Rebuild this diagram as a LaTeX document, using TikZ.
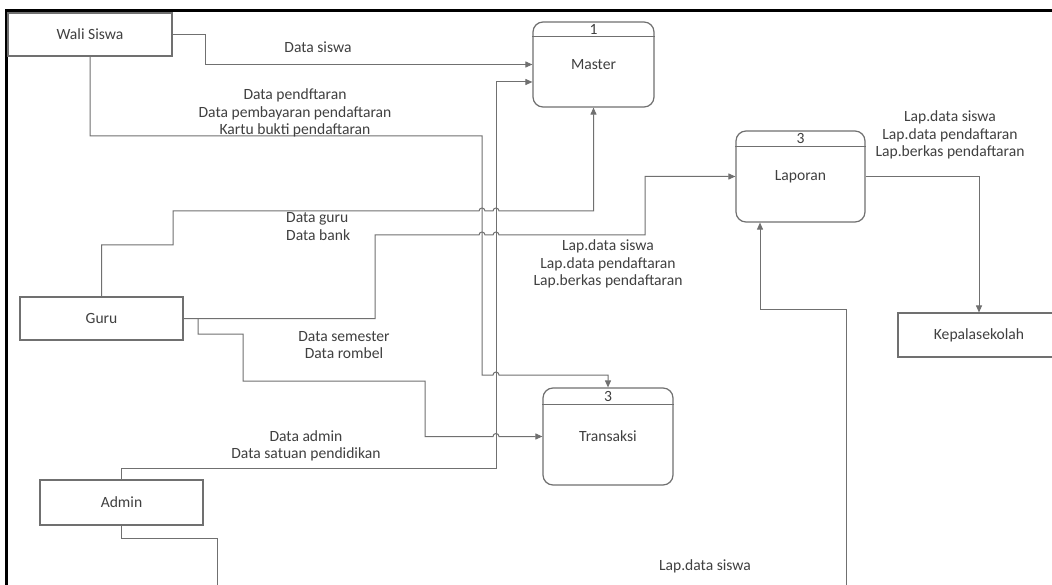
\documentclass[tikz,border=0pt]{standalone}
\usepackage{fontspec}
\setmainfont{Carlito}
\usetikzlibrary{arrows.meta,calc}
\definecolor{ln}{HTML}{707070}
\definecolor{tx}{HTML}{404040}
\newcommand{\lblfont}{\fontsize{15.6}{17.5}\selectfont}
\tikzset{
  ent/.style={draw=ln, line width=1.1pt, minimum width=163pt, minimum height=43pt, inner sep=0pt, font=\lblfont, text=tx},
  proc/.style={draw=ln, line width=1.2pt, rounded corners=10pt, inner sep=0pt, font=\lblfont, text=tx},
  flow/.style={draw=ln, line width=1pt, -{Triangle[length=7pt,width=6pt]}},
  lbl/.style={font=\lblfont, text=tx, align=center, inner sep=0pt},
  hdr/.style={draw=ln, line width=1.2pt},
}
\begin{document}
\begin{tikzpicture}[x=1pt,y=-1pt]
\useasboundingbox (0,0) rectangle (1052,585);
\fill[white] (0,0) rectangle (1052,585);
% frame
\draw[line width=2.6pt, black] (6.5,590) -- (6.5,10.5) -- (1060,10.5);

% external entities
\node[ent, minimum width=164pt] (wali) at (90,34.5) {Wali Siswa};
\node[ent] (guru) at (101.5,318.5) {Guru};
\node[ent, minimum height=45pt] (admin) at (121.5,502.5) {Admin};
\node[ent, minimum width=162pt, minimum height=44pt] (kep) at (979,335) {Kepalasekolah};

% processes
\node[proc, minimum width=121pt, minimum height=85pt] (master) at (593.5,64.5) {Master};
\draw[hdr] ($(master.north west)+(0,15)$) -- ($(master.north east)+(0,15)$);
\node[lbl] (n1) at ($(master.north)+(0,8)$) {1};

\node[proc, minimum width=129pt, minimum height=91pt] (lap) at (800.5,176.5) {Laporan};
\draw[hdr] ($(lap.north west)+(0,16)$) -- ($(lap.north east)+(0,16)$);
\node[lbl] (n3) at ($(lap.north)+(0,8.5)$) {3};

\node[proc, minimum width=130pt, minimum height=97pt] (trans) at (608,436.5) {Transaksi};
\draw[hdr] ($(trans.north west)+(0,17)$) -- ($(trans.north east)+(0,17)$);
\node[lbl] (n2) at ($(trans.north)+(0,9)$) {3};

% connectors
\draw[flow] (wali.east) -- (205,34.5) -- (205,64.5) -- (master.west);

\draw[flow] (wali.south) -- (90,136) -- (482,136) -- (482,375)
  -- (493,375) arc[start angle=180,end angle=360,radius=3] -- (608,375) -- (trans.north);

\draw[flow] (guru.north) -- (101.5,245) -- (173,245) -- (173,211)
  -- (479,211) arc[start angle=180,end angle=360,radius=3]
  -- (493,211) arc[start angle=180,end angle=360,radius=3]
  -- (593.5,211) -- (master.south);

\draw[flow] (guru.east) -- (375,318.5) -- (375,235)
  -- (479,235) arc[start angle=180,end angle=360,radius=3]
  -- (493,235) arc[start angle=180,end angle=360,radius=3]
  -- (645,235) -- (645,176.5) -- (lap.west);

\coordinate (gbr) at (198,318.5);
\draw[flow] (gbr) -- (198,334) -- (243,334) -- (243,381) -- (425,381) -- (425,436.5)
  -- (493,436.5) arc[start angle=180,end angle=360,radius=3] -- (trans.west);

\draw[flow] (admin.north) -- (121.5,468) -- (496,468) -- (496,82) -- ($(master.west)+(0,17.5)$);

\draw[flow] (admin.south) -- (121.5,538) -- (217,538) -- (217,590) -- (846,590) -- (846,310) -- (760,310) -- ($(lap.south)+(-40.5,0)$);

\draw[flow] (lap.east) -- (979,176.5) -- (kep.north);

% labels
\node[lbl] (l1) at (318,47) {Data siswa};
\node[lbl] (l2) at (295,113) {Data pendftaran\\Data pembayaran pendaftaran\\Kartu bukti pendaftaran};
\node[lbl, anchor=west, align=left] (l3) at (286,226.5) {Data guru\\Data bank};
\node[lbl] (l4) at (608,264) {Lap.data siswa\\Lap.data pendaftaran\\Lap.berkas pendaftaran};
\node[lbl] (l5) at (344,345) {Data semester\\Data rombel};
\node[lbl] (l6) at (306,446) {Data admin\\Data satuan pendidikan};
\node[lbl] (l7) at (705,566) {Lap.data siswa};
\node[lbl] (l8) at (950,135) {Lap.data siswa\\Lap.data pendaftaran\\Lap.berkas pendaftaran};
\end{tikzpicture}
\end{document}
